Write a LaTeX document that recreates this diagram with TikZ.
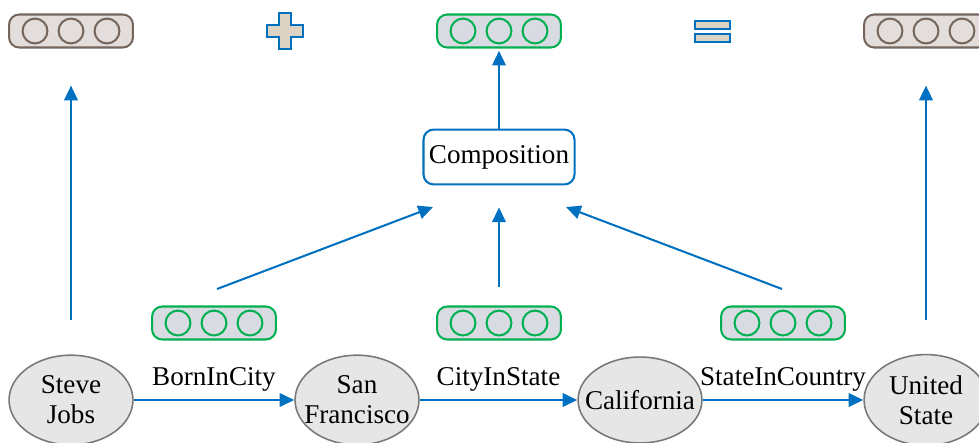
\documentclass[tikz,border=0pt]{standalone}
\usepackage{fontspec}
\setmainfont{Liberation Serif}
\usepackage{xcolor}
\usetikzlibrary{arrows.meta, positioning, shapes.geometric, calc}

\definecolor{arrowblue}{HTML}{0070C0}
\definecolor{vecgreen}{HTML}{00B050}
\definecolor{vecfill}{HTML}{D8DCE2}
\definecolor{vecbrown}{HTML}{75655B}
\definecolor{brownfill}{HTML}{E3DEDB}
\definecolor{opfill}{HTML}{DDD3C5}
\definecolor{entityfill}{HTML}{E6E6E6}

\begin{document}
\begin{tikzpicture}[
    x=0.4423pt, y=-0.4423pt,
    >={Triangle[length=6.5pt, width=6pt]},
    font=\fontsize{12}{13.3}\selectfont,
    flow/.style={->, draw=arrowblue, fill=arrowblue, line width=0.9pt},
    entity/.style={
        ellipse, draw=gray!95!black, fill=entityfill, line width=0.7pt,
        minimum width=54.8pt, minimum height=38pt,
        inner xsep=-6pt, align=center
    },
    vecbox/.style={rectangle, rounded corners=4.5pt, line width=0.9pt,
        minimum width=54.8pt, minimum height=14.6pt},
    relvec/.style={vecbox, draw=vecgreen, fill=vecfill},
    entvec/.style={vecbox, draw=vecbrown, fill=brownfill},
    op style/.style={draw=arrowblue, fill=opfill, line width=0.9pt},
    comp style/.style={draw=arrowblue, fill=white, line width=0.9pt,
        rounded corners=4.5pt, minimum width=66.8pt, minimum height=24.3pt,
        inner xsep=2pt}
]
    \useasboundingbox (0,0) rectangle (979,442);

    % --- ENTITIES ---
    \node[entity] (steve) at (71,400) {Steve\\Jobs};
    \node[entity] (sanfran) at (357,400) {San\\Francisco};
    \node[entity] (calif) at (640,400) {California};
    \node[entity] (usa) at (926,400) {United\\State};

    % Relations between entities
    \draw[flow] (steve) -- node[above, text=black] {BornInCity} (sanfran);
    \draw[flow] (sanfran) -- node[above, text=black] {CityInState} (calif);
    \draw[flow] (calif) -- node[above, text=black] {StateInCountry} (usa);

    % --- VECTORS ---
    \node[relvec] (relA) at (214,323) {};
    \node[relvec] (relB) at (499,323) {};
    \node[relvec] (relC) at (783,323) {};
    \node[relvec] (topC) at (499,31) {};
    \node[entvec] (topL) at (71,31) {};
    \node[entvec] (topR) at (926,31) {};

    % three cells in each vector
    \foreach \v in {relA, relB, relC, topC}
        \foreach \dx in {-36, 0, 36}
            \draw[vecgreen, line width=0.9pt] ($(\v)+(\dx,0)$) circle (5.5pt);
    \foreach \v in {topL, topR}
        \foreach \dx in {-36, 0, 36}
            \draw[vecbrown, line width=0.9pt] ($(\v)+(\dx,0)$) circle (5.5pt);

    % --- COMPOSITION ---
    \node[comp style] (comp) at (499,157) {Composition};

    \coordinate (outA) at (217,289);
    \coordinate (inA) at (433,207);
    \coordinate (outC) at (782,289);
    \coordinate (inC) at (566,207);

    \draw[flow] (outA) -- (inA);
    \draw[flow] (outC) -- (inC);
    \draw[flow, shorten <=8pt, shorten >=9.7pt] (relB.north) -- (comp.south);
    \draw[flow, shorten >=1pt] (comp.north) -- (topC.south);

    % Head and tail embeddings
    \draw[flow, shorten <=15pt, shorten >=16.4pt] (steve.north) -- (topL.south);
    \draw[flow, shorten <=15pt, shorten >=16.4pt] (usa.north) -- (topR.south);

    % --- OPERATORS ---
    % plus
    \draw[op style] (279,13) -- (291,13) -- (291,25) -- (303,25) -- (303,37)
        -- (291,37) -- (291,49) -- (279,49) -- (279,37) -- (267,37)
        -- (267,25) -- (279,25) -- cycle;
    % equals
    \draw[op style] (695,21) rectangle (730,29);
    \draw[op style] (695,34) rectangle (730,42);

\end{tikzpicture}
\end{document}
